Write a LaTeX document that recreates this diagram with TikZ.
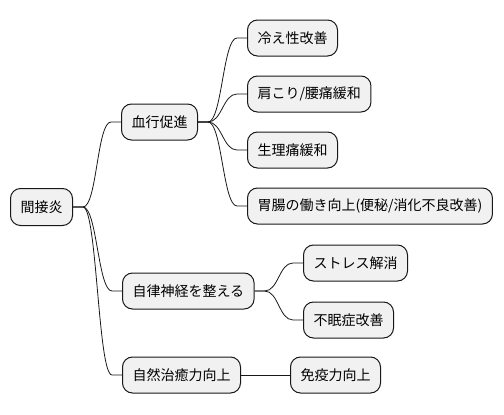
\documentclass[tikz,border=0pt]{standalone}
\usepackage{fontspec}
\setmainfont{Noto Sans CJK JP}
\definecolor{boxfill}{HTML}{F1F1F1}
\definecolor{boxline}{HTML}{181818}
\tikzset{
  topic/.style={draw=boxline, fill=boxfill, line width=1pt, rounded corners=10pt,
    anchor=west, minimum height=36pt, inner xsep=10pt, font=\fontsize{14pt}{16pt}\selectfont},
  branch/.style={to path={-- ++(10pt,0) .. controls +(14pt,0) and +(-14pt,0)
    .. ([xshift=-10pt]\tikztotarget.west) -- (\tikztotarget.west)}}
}
\begin{document}
\begin{tikzpicture}[x=1pt, y=-1pt, line width=0.8pt, draw=boxline]
        \useasboundingbox (0,0) rectangle (504,415);
        % Nodes
        \node[topic, minimum height=37pt] (root) at (10,207) {間接炎};
        \node[topic] (blood) at (121,122) {血行促進};
        \node[topic] (cold) at (247,38) {冷え性改善};
        \node[topic] (shoulder) at (247,94) {肩こり/腰痛緩和};
        \node[topic] (period) at (247,150) {生理痛緩和};
        \node[topic] (stomach) at (247,206) {胃腸の働き向上(便秘/消化不良改善)};
        \node[topic] (nerve) at (122,291) {自律神経を整える};
        \node[topic] (stress) at (303,263) {ストレス解消};
        \node[topic] (sleep) at (303,320) {不眠症改善};
        \node[topic] (heal) at (122,375) {自然治癒力向上};
        \node[topic] (immune) at (290,375) {免疫力向上};

        % Connectors
        \draw (root.east) to[branch] (blood);
        \draw (root.east) to[branch] (nerve);
        \draw (root.east) to[branch] (heal);
        \draw (blood.east) to[branch] (cold);
        \draw (blood.east) to[branch] (shoulder);
        \draw (blood.east) to[branch] (period);
        \draw (blood.east) to[branch] (stomach);
        \draw (nerve.east) to[branch] (stress);
        \draw (nerve.east) to[branch] (sleep);
        \draw (heal) -- (immune);
    \end{tikzpicture}
\end{document}
